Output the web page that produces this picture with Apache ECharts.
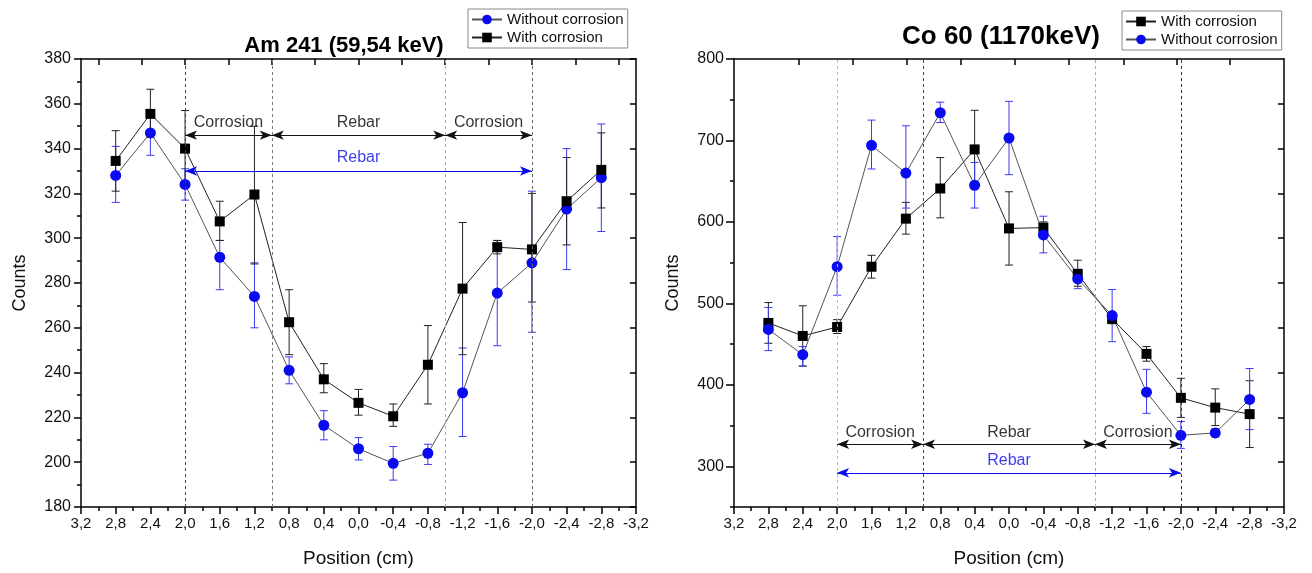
<!DOCTYPE html>
<html>
<head>
<meta charset="utf-8">
<script src="https://cdn.jsdelivr.net/npm/echarts@6/dist/echarts.min.js"></script>
<style>html,body{margin:0;padding:0;background:#fff;}#c{width:1312px;height:573px;}</style>
</head>
<body>
<div id="c"></div>
<script>
// ---------- data ----------
const positions = [2.8, 2.4, 2.0, 1.6, 1.2, 0.8, 0.4, 0.0, -0.4, -0.8, -1.2, -1.6, -2.0, -2.4, -2.8];

// Am 241 (59,54 keV)
const amWithout   = [328, 347, 324, 291.5, 274, 241, 216.5, 206, 199.5, 204, 231, 275.5, 289, 313, 327];
const amWithoutLo = [316, 337, 317, 277, 260, 235, 210, 201, 192, 199, 211.5, 252, 258, 286, 303];
const amWithoutHi = [341, 356, 331, 299, 289, 247, 223, 211, 207, 208, 251, 299, 321, 340, 351];
const amWith      = [334.5, 355.5, 340, 307.5, 319.5, 262.5, 237, 226.5, 220.5, 243.5, 277.5, 296, 295, 316.5, 330.5];
const amWithLo    = [321, 345, 323, 299, 288.5, 248, 231, 221, 216, 226, 248, 293, 271.5, 297, 313.5];
const amWithHi    = [348, 366.5, 357, 316.5, 350, 277, 244, 232.5, 226, 261, 307, 299, 320, 336, 347];

// Co 60 (1170keV)
const coWith      = [476, 460, 471, 545, 604, 641, 689, 592, 593, 536, 481, 438, 384, 372, 364];
const coWithLo    = [451, 423, 463, 531, 585, 605, 641, 547, 585, 521, 475, 429, 360, 350, 323];
const coWithHi    = [501, 497, 480, 559, 624, 679, 737, 637, 600, 553, 487, 447, 408, 395, 405];
const coWithout   = [468, 437, 545, 694, 660, 734, 645, 703, 584, 530, 485, 391, 338, 341, 382];
const coWithoutLo = [442, 423, 510, 665, 617, 722, 617, 658, 562, 518, 453, 365, 322, 336, 345];
const coWithoutHi = [495, 447, 582, 725, 718, 747, 673, 748, 607, 542, 517, 419, 355, 346, 420];

// region boundaries (cm)
const boundaries = [2.0, 1.0, -1.0, -2.0];
const regionLabels = ['Corrosion', 'Rebar', 'Corrosion'];
const blueLabel = 'Rebar';
// annotation heights (counts)
const amArrowY = 346, amTextY = 351.5, amBlueArrowY = 330, amBlueTextY = 336;
const coArrowY = 327, coTextY = 341, coBlueArrowY = 292, coBlueTextY = 307;

// tick values
const coYMajor = [300, 400, 500, 600, 700, 800];
const coYMinor = [250, 350, 450, 550, 650, 750];
const amTopTicks = [3.0, 2.5, 2.0, 1.5, 1.0, 0.5, 0.0, -0.5, -1.0, -1.5, -2.0, -2.5, -3.0];
const coTopTicks = [2.45, 1.82, 1.19, 0.56, -0.07, -0.7, -1.33, -1.95, -2.57];
const coRightTicks = [305, 360, 415, 470, 525, 580, 635, 690, 745];

// ---------- helpers ----------
const FONT = 'Liberation Sans, Arial, sans-serif';
const BLUE = '#0a0af0';
const fmtX = v => (Math.abs(v) < 1e-9 ? 0 : v).toFixed(1).replace('.', ',');
const pts = arr => positions.map((p, i) => [p, arr[i]]);
const errData = (lo, hi) => positions.map((p, i) => [p, lo[i], hi[i]]);

function errSeries(gi, lo, hi, color) {
  return {
    type: 'custom', xAxisIndex: gi * 2, yAxisIndex: gi * 3, z: 1, silent: true,
    data: errData(lo, hi), encode: { x: 0, y: [1, 2] },
    renderItem: function (params, api) {
      const x = api.value(0);
      const a = api.coord([x, api.value(1)]);
      const b = api.coord([x, api.value(2)]);
      const w = 4;
      const st = { stroke: color, lineWidth: 1 };
      return { type: 'group', children: [
        { type: 'line', shape: { x1: a[0], y1: a[1], x2: b[0], y2: b[1] }, style: st },
        { type: 'line', shape: { x1: a[0] - w, y1: a[1], x2: a[0] + w, y2: a[1] }, style: st },
        { type: 'line', shape: { x1: b[0] - w, y1: b[1], x2: b[0] + w, y2: b[1] }, style: st }
      ]};
    }
  };
}

function lineSeries(gi, name, arr, isBlue) {
  return {
    type: 'line', name: name, xAxisIndex: gi * 2, yAxisIndex: gi * 3, z: 3,
    data: pts(arr),
    symbol: isBlue ? 'circle' : 'rect', symbolSize: isBlue ? 11 : 10,
    itemStyle: { color: isBlue ? BLUE : '#000' },
    lineStyle: { color: isBlue ? '#555' : '#222', width: 1 },
    animation: false
  };
}

function vlineSeries(gi, colors) {
  return {
    type: 'line', xAxisIndex: gi * 2, yAxisIndex: gi * 3, data: [], silent: true,
    markLine: {
      silent: true, symbol: 'none', animation: false, label: { show: false },
      data: boundaries.map((b, i) => ({ xAxis: b, lineStyle: { type: [3, 3], color: colors[i], width: 1 } }))
    }
  };
}

function annotSeries(gi, arrowY, textY, blueArrowY, blueTextY) {
  const mids = [ (boundaries[0] + boundaries[1]) / 2, (boundaries[1] + boundaries[2]) / 2, (boundaries[2] + boundaries[3]) / 2 ];
  const data = regionLabels.map((t, i) => ({ value: [mids[i], textY], name: t, label: { color: '#000' } }));
  data.push({ value: [(boundaries[0] + boundaries[3]) / 2, blueTextY], name: blueLabel, label: { color: BLUE } });
  const arrows = [];
  for (let i = 0; i < 3; i++) {
    arrows.push([{ coord: [boundaries[i], arrowY], lineStyle: { color: '#111', width: 1, type: 'solid' }, itemStyle: { color: '#111' } },
                 { coord: [boundaries[i + 1], arrowY] }]);
  }
  arrows.push([{ coord: [boundaries[0], blueArrowY], lineStyle: { color: BLUE, width: 1, type: 'solid' }, itemStyle: { color: BLUE } },
               { coord: [boundaries[3], blueArrowY] }]);
  return {
    type: 'scatter', xAxisIndex: gi * 2, yAxisIndex: gi * 3, z: 4, silent: true,
    symbolSize: 0, data: data,
    label: { show: true, position: 'inside', formatter: p => p.name, fontFamily: FONT, fontSize: 16, textBorderWidth: 0 },
    markLine: { silent: true, animation: false, symbol: ['arrow', 'arrow'], symbolSize: [7, 12], label: { show: false }, data: arrows }
  };
}

function xAxes(gi, topTicks) {
  return [
    { type: 'value', gridIndex: gi, position: 'bottom', inverse: true, min: -3.2, max: 3.2, interval: 0.4,
      axisLine: { show: true, onZero: false, lineStyle: { color: '#000', width: 1.5 } },
      axisTick: { show: true, inside: false, length: 7, lineStyle: { color: '#000', width: 1.5 } },
      minorTick: { show: true, splitNumber: 2, length: 4, lineStyle: { color: '#000', width: 1.5 } },
      splitLine: { show: false },
      axisLabel: { formatter: fmtX, color: '#111', fontFamily: FONT, fontSize: 15, margin: 9 },
      name: 'Position (cm)', nameLocation: 'middle', nameGap: 42,
      nameTextStyle: { fontFamily: FONT, fontSize: 19, color: '#111' } },
    { type: 'value', gridIndex: gi, position: 'top', inverse: true, min: -3.2, max: 3.2,
      axisLine: { show: true, onZero: false, lineStyle: { color: '#000', width: 1.5 } },
      axisTick: { show: true, inside: true, length: 6, customValues: topTicks, lineStyle: { color: '#000', width: 1.5 } },
      axisLabel: { show: false }, splitLine: { show: false } }
  ];
}

const axisNameStyle = { fontFamily: FONT, fontSize: 18, color: '#111' };
const yAxes = [
  // grid 0 (Am)
  { type: 'value', gridIndex: 0, position: 'left', min: 180, max: 380, interval: 20,
    axisLine: { show: true, onZero: false, lineStyle: { color: '#000', width: 1.5 } },
    axisTick: { show: true, inside: false, length: 7, lineStyle: { color: '#000', width: 1.5 } },
    minorTick: { show: true, splitNumber: 2, length: 4, lineStyle: { color: '#000', width: 1.5 } },
    splitLine: { show: false },
    axisLabel: { color: '#111', fontFamily: FONT, fontSize: 16, margin: 10 },
    name: 'Counts', nameLocation: 'middle', nameGap: 52, nameTextStyle: axisNameStyle },
  { type: 'value', gridIndex: 0, position: 'right', min: 180, max: 380, interval: 20,
    axisLine: { show: true, onZero: false, lineStyle: { color: '#000', width: 1.5 } },
    axisTick: { show: true, inside: true, length: 6, lineStyle: { color: '#000', width: 1.5 } },
    axisLabel: { show: false }, splitLine: { show: false } },
  { type: 'value', gridIndex: 0, position: 'left', min: 180, max: 380, show: false },
  // grid 1 (Co)
  { type: 'value', gridIndex: 1, position: 'left', min: 250, max: 800, interval: 50,
    axisLine: { show: true, onZero: false, lineStyle: { color: '#000', width: 1.5 } },
    axisTick: { show: true, inside: false, length: 8, customValues: coYMajor, lineStyle: { color: '#000', width: 1.5 } },
    splitLine: { show: false },
    axisLabel: { customValues: coYMajor, color: '#111', fontFamily: FONT, fontSize: 16, margin: 10 },
    name: 'Counts', nameLocation: 'middle', nameGap: 52, nameTextStyle: axisNameStyle },
  { type: 'value', gridIndex: 1, position: 'right', min: 250, max: 800, interval: 50,
    axisLine: { show: true, onZero: false, lineStyle: { color: '#000', width: 1.5 } },
    axisTick: { show: true, inside: true, length: 6, customValues: coRightTicks, lineStyle: { color: '#000', width: 1.5 } },
    axisLabel: { show: false }, splitLine: { show: false } },
  { type: 'value', gridIndex: 1, position: 'left', offset: 0, min: 250, max: 800, interval: 50,
    axisLine: { show: false, onZero: false },
    axisTick: { show: true, inside: false, length: 4, customValues: coYMinor, lineStyle: { color: '#000', width: 1.5 } },
    axisLabel: { show: false }, splitLine: { show: false } }
];

const option = {
  animation: false,
  backgroundColor: '#fff',
  textStyle: { fontFamily: FONT },
  title: [
    { text: 'Am 241 (59,54 keV)', left: 339, top: 30, textAlign: 'center',
      textStyle: { fontFamily: FONT, fontWeight: 'bold', fontSize: 22, color: '#000' } },
    { text: 'Co 60 (1170keV)', left: 996, top: 19, textAlign: 'center',
      textStyle: { fontFamily: FONT, fontWeight: 'bold', fontSize: 26, color: '#000' } }
  ],
  legend: [
    { data: ['Without corrosion', 'With corrosion'], orient: 'vertical', left: 468, top: 9,
      borderColor: '#888', borderWidth: 1, padding: [3, 4, 3, 3], itemGap: 3, itemWidth: 30, itemHeight: 12,
      textStyle: { fontFamily: FONT, fontSize: 15, color: '#111' } },
    { data: ['With corrosion', 'Without corrosion'], orient: 'vertical', left: 1122, top: 11,
      borderColor: '#888', borderWidth: 1, padding: [3, 4, 3, 3], itemGap: 3, itemWidth: 30, itemHeight: 12,
      textStyle: { fontFamily: FONT, fontSize: 15, color: '#111' } }
  ],
  grid: [
    { left: 81, right: 676, top: 59, bottom: 62 },
    { left: 734, right: 28, top: 59, bottom: 65 }
  ],
  xAxis: [].concat(xAxes(0, amTopTicks), xAxes(1, coTopTicks)),
  yAxis: yAxes,
  series: [
    vlineSeries(0, ['#444', '#777', '#aaa', '#666']),
    errSeries(0, amWithoutLo, amWithoutHi, '#3b3bf0'),
    errSeries(0, amWithLo, amWithHi, '#222'),
    lineSeries(0, 'Without corrosion', amWithout, true),
    lineSeries(0, 'With corrosion', amWith, false),
    annotSeries(0, amArrowY, amTextY, amBlueArrowY, amBlueTextY),

    vlineSeries(1, ['#bbb', '#444', '#aaa', '#333']),
    errSeries(1, coWithLo, coWithHi, '#222'),
    errSeries(1, coWithoutLo, coWithoutHi, '#3b3bf0'),
    lineSeries(1, 'With corrosion', coWith, false),
    lineSeries(1, 'Without corrosion', coWithout, true),
    annotSeries(1, coArrowY, coTextY, coBlueArrowY, coBlueTextY)
  ]
};
const chart = echarts.init(document.getElementById('c'), null, { renderer: 'canvas' });
chart.setOption(option);
</script>
</body>
</html>
